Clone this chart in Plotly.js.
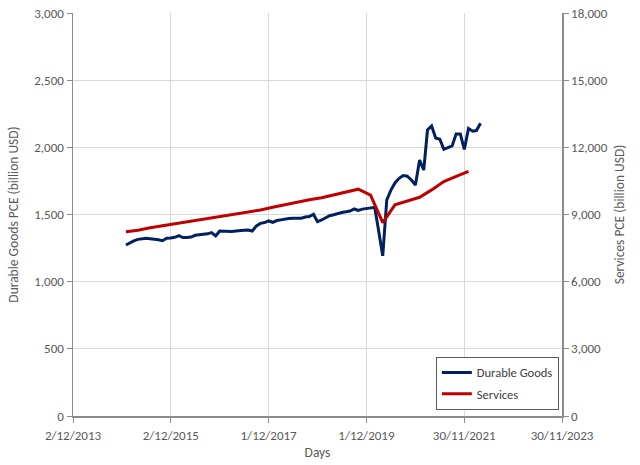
<!DOCTYPE html>
<html>
<head>
<meta charset="utf-8">
<script src="https://cdn.plot.ly/plotly-3.0.1.min.js"></script>
<style>html,body{margin:0;padding:0;background:#fff;}#chart{width:640px;height:465px;}</style>
</head>
<body>
<div id="chart"></div>
<script>
// Durable goods: monthly, Jan 2015 - Apr 2022 (billion USD)
const durableStart = [2015, 1];
const durableValues = [
  1273, 1290, 1303, 1315, 1320, 1323, 1320, 1318, 1312, 1305, 1323, 1325,
  1330, 1342, 1328, 1328, 1332, 1345, 1348, 1352, 1356, 1365, 1340, 1377,
  1375, 1372, 1374, 1377, 1377, 1382, 1385, 1377, 1415, 1434, 1440, 1452,
  1442, 1455, 1460, 1467, 1470, 1472, 1472, 1473, 1481, 1485, 1502, 1447,
  1459, 1475, 1491, 1498, 1509, 1515, 1520, 1526, 1541, 1531, 1540, 1546,
  1551, 1553, 1380, 1192, 1608, 1682, 1735, 1769, 1790, 1785, 1757, 1720,
  1906, 1831, 2129, 2159, 2070, 2060, 1985, 1995, 2010, 2100, 2100, 1985,
  2140, 2120, 2125, 2180
];
// Services: quarterly, Q1 2015 - Q1 2022 (billion USD)
const servicesStart = [2015, 1];
const servicesValues = [
  8230, 8300, 8410, 8500,
  8580, 8680, 8760, 8850,
  8920, 9010, 9100, 9200,
  9320, 9440, 9570, 9660,
  9750, 9870, 10000, 10130,
  9870, 8640, 9430, 9600,
  9770, 10100, 10470, 10700,
  10930
];
const xTickVals = ['2013-12-02', '2015-12-02', '2017-12-01', '2019-12-01', '2021-11-30', '2023-11-30'];
const xTickText = ['2/12/2013', '2/12/2015', '1/12/2017', '1/12/2019', '30/11/2021', '30/11/2023'];

function monthDates(start, n, step) {
  const out = [];
  for (let i = 0; i < n; i++) {
    const t = (start[0] * 12 + (start[1] - 1)) + i * step;
    const y = Math.floor(t / 12), m = t % 12 + 1;
    out.push(y + '-' + String(m).padStart(2, '0') + '-01');
  }
  return out;
}
const durableDates = monthDates(durableStart, durableValues.length, 1);
const servicesDates = monthDates(servicesStart, servicesValues.length, 3);

const font = 'Carlito, "Liberation Sans", Arial, sans-serif';
const grey = '#595959';
const axisLine = '#8c8c8c';
const gridC = '#d9d9d9';

const traces = [
  {x: durableDates, y: durableValues, name: 'Durable Goods', type: 'scatter', mode: 'lines',
   line: {color: '#002060', width: 3}, yaxis: 'y', legendgroup: 'a'},
  {x: servicesDates, y: servicesValues, name: 'Services', type: 'scatter', mode: 'lines',
   line: {color: '#c00000', width: 3}, yaxis: 'y2', legendgroup: 'b'}
];

const layout = {
  width: 640, height: 465,
  margin: {l: 73, r: 78, t: 13, b: 49},
  paper_bgcolor: '#fff', plot_bgcolor: '#fff',
  font: {family: font, size: 13, color: grey},
  showlegend: true,
  legend: {x: 0.742, y: 0.147, xanchor: 'left', yanchor: 'top', bgcolor: '#fff',
           bordercolor: '#595959', borderwidth: 1, font: {size: 12.5, color: '#404040'},
           itemwidth: 30, tracegroupgap: 2},
  xaxis: {
    type: 'date', range: ['2013-12-02', '2023-11-30'],
    tickmode: 'array', tickvals: xTickVals, ticktext: xTickText,
    showgrid: true, gridcolor: gridC, gridwidth: 1,
    showline: true, linecolor: axisLine, linewidth: 1.5,
    ticks: 'outside', ticklen: 5, tickcolor: axisLine,
    tickfont: {size: 13, color: grey}, ticklabelstandoff: 2,
    title: {text: 'Days', font: {size: 13.5, color: grey}, standoff: 5},
    zeroline: false
  },
  yaxis: {
    range: [0, 3000], dtick: 500, tick0: 0, tickformat: ',d',
    showgrid: true, gridcolor: gridC, gridwidth: 1,
    showline: true, linecolor: axisLine, linewidth: 1.5,
    ticks: 'outside', ticklen: 5, tickcolor: axisLine,
    tickfont: {size: 13, color: grey},
    title: {text: 'Durable Goods PCE (billion USD)', font: {size: 13.5, color: grey}, standoff: 12},
    zeroline: false
  },
  yaxis2: {
    range: [0, 18000], dtick: 3000, tick0: 0, tickformat: ',d',
    overlaying: 'y', side: 'right', showgrid: false,
    showline: true, linecolor: axisLine, linewidth: 1.5,
    ticks: 'outside', ticklen: 5, tickcolor: axisLine,
    tickfont: {size: 13, color: grey},
    title: {text: 'Services PCE (billion USD)', font: {size: 13.5, color: grey}, standoff: 8},
    zeroline: false
  }
};

Plotly.newPlot('chart', traces, layout, {displayModeBar: false, staticPlot: true});
</script>
</body>
</html>
